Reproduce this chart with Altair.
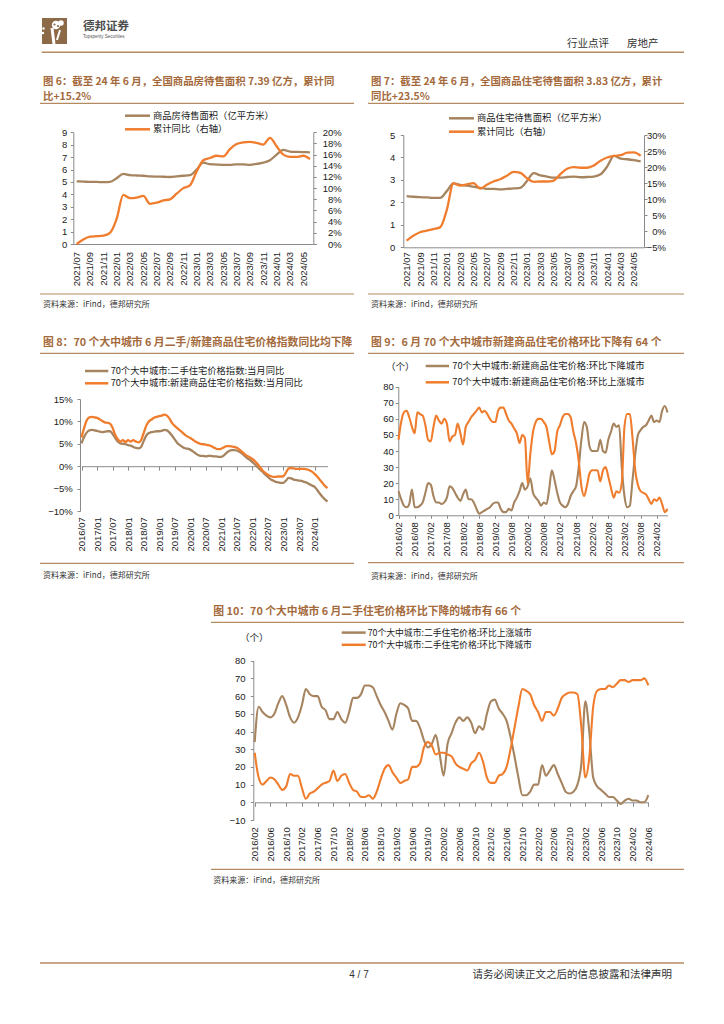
import altair as alt
import pandas as pd

W, H = 708, 1000
OX, OY = 8, 8

BROWN = "#a6845f"
ORANGE = "#f07d2d"
TITLE_C = "#a46a3c"
RULE_C = "#b48a60"
AXIS_C = "#8a8a8a"
TXT_C = "#1a1a1a"
CJK = "Noto Sans CJK SC"
NUM = "Liberation Sans"


def month_range(y0, m0, n):
    out = []
    y, m = y0, m0
    for _ in range(n):
        out.append(f"{y}/{m:02d}")
        m += 1
        if m > 12:
            m = 1
            y += 1
    return out


# ---------------- data ----------------
months6 = month_range(2021, 7, 36)
area6 = [5.05, 5.03, 5.00, 5.00, 4.98, 5.00, 5.30, 5.65, 5.55, 5.52, 5.50, 5.45,
         5.43, 5.42, 5.40, 5.45, 5.50, 5.55, 6.00, 6.55, 6.43, 6.40, 6.37, 6.38,
         6.42, 6.42, 6.38, 6.45, 6.55, 6.75, 7.20, 7.58, 7.45, 7.42, 7.40, 7.39]
yoy6 = [0.000, 0.008, 0.013, 0.014, 0.015, 0.020, 0.045, 0.088, 0.082, 0.083, 0.086, 0.072,
        0.074, 0.078, 0.080, 0.090, 0.100, 0.105, 0.130, 0.150, 0.154, 0.158, 0.157, 0.170,
        0.179, 0.182, 0.183, 0.181, 0.178, 0.190, 0.175, 0.160, 0.156, 0.156, 0.158, 0.152]

months7 = month_range(2021, 7, 36)
area7 = [2.28, 2.25, 2.23, 2.22, 2.20, 2.20, 2.50, 2.85, 2.78, 2.75, 2.70, 2.65,
         2.60, 2.60, 2.58, 2.60, 2.62, 2.65, 2.95, 3.30, 3.20, 3.15, 3.10, 3.10,
         3.13, 3.15, 3.12, 3.13, 3.15, 3.25, 3.60, 4.07, 3.95, 3.92, 3.88, 3.83]
yoy7 = [-0.029, -0.014, -0.003, 0.002, 0.007, 0.012, 0.066, 0.149, 0.142, 0.146, 0.150, 0.133,
        0.145, 0.155, 0.162, 0.173, 0.185, 0.182, 0.165, 0.154, 0.155, 0.155, 0.158, 0.178,
        0.195, 0.200, 0.198, 0.198, 0.205, 0.220, 0.230, 0.235, 0.237, 0.245, 0.246, 0.235]

months8 = month_range(2016, 7, 96)
resale_yoy8 = [5.1, 6.5, 7.5, 8.0, 8.1, 8.0, 7.9, 7.7, 7.6, 7.7, 7.8, 7.8,
               7.2, 6.3, 5.5, 5.1, 5.0, 4.9, 4.7, 4.6, 4.3, 4.1, 4.0, 4.3,
               5.6, 6.8, 7.4, 7.6, 7.7, 7.8, 7.8, 7.9, 8.1, 8.0, 7.5, 6.8,
               6.0, 5.2, 4.7, 4.3, 4.0, 3.9, 3.7, 3.3, 2.9, 2.5, 2.3, 2.3,
               2.2, 2.3, 2.3, 2.2, 2.2, 2.1, 2.1, 2.4, 3.0, 3.4, 3.6, 3.6,
               3.5, 3.2, 2.8, 2.3, 1.8, 1.4, 0.9, 0.4, -0.2, -0.8, -1.3, -1.9,
               -2.4, -2.9, -3.2, -3.5, -3.6, -3.7, -3.7, -3.2, -2.6, -2.7, -3.0, -3.1,
               -3.2, -3.3, -3.5, -3.7, -4.0, -4.3, -4.6, -5.3, -6.1, -6.8, -7.4, -7.9]
new_yoy8 = [6.4, 8.5, 10.2, 10.9, 11.0, 10.9, 10.8, 10.5, 10.1, 9.8, 9.7, 9.5,
            8.6, 7.0, 6.0, 5.5, 5.8, 5.4, 5.8, 5.5, 5.8, 5.5, 5.3, 5.8,
            7.4, 9.0, 10.0, 10.4, 10.8, 11.0, 11.2, 11.3, 11.5, 11.3, 10.6, 9.6,
            9.0, 8.5, 8.0, 7.5, 7.0, 6.6, 6.3, 5.9, 5.5, 5.2, 5.0, 4.9,
            4.8, 4.7, 4.5, 4.2, 3.9, 3.8, 3.9, 4.2, 4.5, 4.5, 4.4, 4.3,
            4.1, 3.7, 3.2, 2.7, 2.3, 2.0, 1.6, 1.1, 0.5, -0.3, -1.0, -1.5,
            -1.9, -2.2, -2.4, -2.4, -2.3, -2.3, -2.2, -1.4, -0.5, -0.4, -0.5, -0.6,
            -0.6, -0.6, -0.6, -0.7, -0.9, -1.2, -1.7, -2.3, -3.0, -3.7, -4.4, -4.9]

months9 = month_range(2016, 2, 101)
fall9 = [15, 10, 6, 5, 7, 16, 5, 5, 6, 8, 14, 20, 19, 12, 8, 8, 7, 8, 11, 18,
         17, 14, 11, 9, 13, 16, 10, 10, 8, 4, 1, 2, 3, 4, 5, 7, 8, 8, 4, 2,
         2, 4, 3, 8, 11, 15, 20, 16, 18, 23, 14, 11, 9, 6, 8, 7, 16, 28, 22, 14,
         8, 6, 5, 7, 12, 15, 18, 30, 47, 58, 55, 43, 40, 40, 40, 47, 40, 39, 47, 52,
         57, 55, 56, 30, 12, 5, 6, 22, 38, 50, 53, 55, 56, 59, 62, 58, 59, 58, 65, 68, 64]
rise9 = [47, 58, 64, 65, 61, 55, 51, 64, 63, 62, 56, 47, 46, 55, 62, 59, 57, 60, 57, 46,
         49, 50, 57, 51, 44, 55, 58, 61, 63, 65, 67, 64, 65, 63, 60, 58, 58, 65, 67, 67,
         63, 59, 57, 54, 51, 45, 50, 48, 20, 38, 52, 58, 60, 60, 58, 55, 46, 38, 40, 52,
         56, 61, 63, 63, 61, 52, 45, 34, 18, 12, 18, 26, 28, 28, 28, 21, 28, 30, 24, 17,
         11, 15, 14, 20, 55, 63, 63, 48, 28, 19, 15, 14, 13, 10, 7, 10, 9, 11, 7, 2, 4]

months10 = month_range(2016, 2, 101)
rise10 = [34, 54, 51, 49, 48, 50, 56, 60, 55, 48, 45, 48, 55, 64, 61, 60, 60, 54, 52, 47,
          47, 51, 47, 45, 51, 59, 59, 61, 66, 66, 65, 60, 55, 51, 46, 41, 50, 56, 55, 53,
          46, 46, 42, 35, 31, 33, 38, 27, 15, 33, 39, 45, 48, 46, 48, 45, 39, 43, 41, 50,
          57, 58, 53, 50, 46, 37, 26, 14, 4, 4, 6, 10, 10, 21, 15, 18, 21, 16, 11, 6,
          5, 6, 10, 22, 57, 40, 14, 9, 7, 5, 3, 3, 1, -1, 1, 2, 1, 1, 0, 0, 4]
fall10 = [28, 14, 10, 12, 14, 13, 10, 7, 9, 16, 15, 15, 8, 2, 5, 6, 8, 10, 11, 12,
          18, 12, 15, 16, 11, 7, 6, 3, 3, 4, 2, 6, 13, 19, 21, 17, 14, 11, 12, 13,
          20, 20, 22, 31, 34, 32, 27, 28, 28, 27, 26, 22, 20, 19, 18, 22, 24, 28, 23, 14,
          11, 11, 15, 16, 20, 30, 42, 54, 64, 63, 61, 55, 51, 46, 51, 51, 49, 53, 59, 61,
          62, 62, 61, 42, 14, 25, 54, 63, 64, 64, 66, 65, 67, 69, 69, 68, 69, 69, 69, 70, 66]

df6 = pd.DataFrame({"month": months6, "area": area6, "yoy": yoy6})
df7 = pd.DataFrame({"month": months7, "area": area7, "yoy": yoy7})
df8 = pd.DataFrame({"month": months8,
                    "resale": [v / 100 for v in resale_yoy8],
                    "new": [v / 100 for v in new_yoy8]})
df9 = pd.DataFrame({"month": months9, "fall": fall9, "rise": rise9})
df10 = pd.DataFrame({"month": months10, "rise": rise10, "fall": fall10})

ONE = pd.DataFrame({"k": [0]})


# ---------------- helpers ----------------
def xs(domain, x0, x1, pad=0.0):
    return alt.Scale(type="point", domain=domain, range=[x0 - OX, x1 - OX], padding=pad)


def ys(d0, d1, ybot, ytop):
    return alt.Scale(domain=[d0, d1], range=[ybot - OY, ytop - OY], nice=False, zero=False)


def x_axis(values, ypos, labels=True, domain=True, ticks=False, pad=4, tick_size=4):
    return alt.Axis(orient="bottom", offset=(ypos - OY) - H, values=values, labels=labels,
                    labelAngle=270, labelFont=NUM, labelFontSize=9.5, labelColor=TXT_C,
                    labelPadding=pad, labelOverlap=False, domain=domain, domainColor=AXIS_C,
                    ticks=ticks, tickColor=AXIS_C, tickSize=tick_size, grid=False, title=None)


def y_axis(orient, xpos, values, fmt=None, pad=3, align=None):
    off = -(xpos - OX) if orient == "left" else (xpos - OX) - W
    kw = dict(orient=orient, offset=off, values=values, labelFont=NUM, labelFontSize=9.5,
              labelColor=TXT_C, labelPadding=pad, domainColor=AXIS_C, tickColor=AXIS_C,
              tickSize=3, grid=False, title=None, labelOverlap=False)
    if fmt:
        kw["format"] = fmt
    if align:
        kw["labelAlign"] = align
    return alt.Axis(**kw)


def line(df, field, color, xscale, yscale, xaxis, yaxis, width=2.3):
    return alt.Chart(df).mark_line(color=color, strokeWidth=width, interpolate="monotone").encode(
        x=alt.X("month:O", sort=None, scale=xscale, axis=xaxis),
        y=alt.Y(f"{field}:Q", scale=yscale, axis=yaxis))


def label(s, x, y, size=9.3, color=TXT_C, weight="normal", align="left", font=CJK):
    return alt.Chart(ONE).mark_text(text=s, font=font, fontSize=size, fontWeight=weight,
                                    color=color, align=align, baseline="middle").encode(
        x=alt.value(x - OX), y=alt.value(y - OY))


def hrule(x1, x2, y, color=RULE_C, width=1.2):
    return alt.Chart(ONE).mark_rule(color=color, strokeWidth=width).encode(
        x=alt.value(x1 - OX), x2=alt.value(x2 - OX), y=alt.value(y - OY))


def seg(x1, y1, x2, y2, color, width):
    return alt.Chart(ONE).mark_rule(color=color, strokeWidth=width).encode(
        x=alt.value(x1 - OX), x2=alt.value(x2 - OX), y=alt.value(y1 - OY), y2=alt.value(y2 - OY))


def dot(x, y, size, color):
    return alt.Chart(ONE).mark_circle(color=color, size=size, opacity=1).encode(
        x=alt.value(x - OX), y=alt.value(y - OY))


def title(s, x, y, size=10.8):
    return label(s, x, y, size=size, color=TITLE_C, weight="bold")


SRC = "资料来源：iFind，德邦研究所"
layers = []

# ---------------- header / footer ----------------
layers += [
    alt.Chart(ONE).mark_rect(color="#8c6a47").encode(
        x=alt.value(42 - OX), x2=alt.value(67 - OX), y=alt.value(18 - OY), y2=alt.value(44 - OY)),
    dot(56, 25, 70, "white"), dot(61, 23, 30, "white"),
    dot(54.5, 24.5, 5, "#8c6a47"), dot(58, 26, 5, "#8c6a47"),
    seg(52, 28, 54, 44, "white", 3), seg(60, 30, 57, 40, "white", 2),
    dot(43.5, 28.5, 6, "white"), dot(43, 33, 6, "white"),
    label("德邦证券", 83, 26.5, size=11.5, color="#4d4d4d", weight="bold"),
    label("Topsperity Securities", 83, 36.5, size=4.5, color="#555555", font=NUM),
    label("行业点评", 567, 44, size=10.5, color="#333333"),
    label("房地产", 627, 44, size=10.5, color="#333333"),
    hrule(41.7, 684, 52.3, width=1.6),
    hrule(40, 684, 963, width=1.6),
    label("4 / 7", 359, 975, size=10, color="#333333", align="center", font=NUM),
    label("请务必阅读正文之后的信息披露和法律声明", 672, 975, size=10.5, color="#333333", align="right"),
]

# ---------------- chart 6 ----------------
x6 = xs(months6, 73.3, 313.3, 0.5)
y6a = ys(0, 9, 244, 132.3)
y6b = ys(0, 0.20, 244, 132.3)
layers += [
    title("图 6：截至 24 年 6 月，全国商品房待售面积 7.39 亿方，累计同", 43, 82, 10.4),
    title("比+15.2%", 43, 96.5, 10.4),
    hrule(40, 354, 103.3),
    hrule(125, 150, 115.7, BROWN, 2.5), label("商品房待售面积（亿平方米）", 153, 115.7),
    hrule(125, 150, 129.3, ORANGE, 2.5), label("累计同比（右轴）", 153, 129.3),
    hrule(40, 354, 294),
    label(SRC, 43, 305, size=8, color="#333333"),
    line(df6, "area", BROWN, x6, y6a, x_axis(months6[::2], 244, pad=7.5),
         y_axis("left", 73.3, list(range(10)), pad=3.5)),
    line(df6, "yoy", ORANGE, x6, y6b, None,
         y_axis("right", 313.3, [i / 100 for i in range(0, 21, 2)], fmt=".0%", pad=25, align="right")),
]

# ---------------- chart 7 ----------------
x7 = xs(months7, 403.3, 644, 0.5)
y7a = ys(0, 5, 247.3, 135)
y7b = ys(-0.05, 0.30, 247.3, 135)
layers += [
    title("图 7：截至 24 年 6 月，全国商品住宅待售面积 3.83 亿方，累计", 371, 82, 10.4),
    title("同比+23.5%", 371, 96.5, 10.4),
    hrule(368, 684, 103.3),
    hrule(449, 474, 118.3, BROWN, 2.5), label("商品住宅待售面积（亿平方米）", 477, 118.3),
    hrule(449, 474, 131.7, ORANGE, 2.5), label("累计同比（右轴）", 477, 131.7),
    hrule(368, 684, 294),
    label(SRC, 371, 305, size=8, color="#333333"),
    line(df7, "area", BROWN, x7, y7a, x_axis(months7[::2], 247.3, pad=4.5),
         y_axis("left", 403.3, list(range(6)), pad=5.5)),
    line(df7, "yoy", ORANGE, x7, y7b, None,
         y_axis("right", 644, [i / 100 for i in range(-5, 31, 5)], fmt=".0%", pad=18.5, align="right")),
]

# ---------------- chart 8 ----------------
x8 = xs(months8, 81.5, 327.5, 0)
y8 = ys(-0.10, 0.15, 511, 399)
layers += [
    title("图 8：70 个大中城市 6 月二手/新建商品住宅价格指数同比均下降", 43, 343.3),
    hrule(40, 354, 353.3),
    hrule(85, 108.3, 371, BROWN, 2.5), label("70个大中城市:二手住宅价格指数:当月同比", 110.7, 371),
    hrule(85, 108.3, 383.3, ORANGE, 2.5), label("70个大中城市:新建商品住宅价格指数:当月同比", 110.7, 383.3),
    hrule(40, 354, 563.3),
    label(SRC, 43, 576, size=8, color="#333333"),
    line(df8, "resale", BROWN, x8, y8,
         x_axis(months8[::6], 511, domain=False, ticks=False, pad=5.7),
         y_axis("left", 80, [-0.10, -0.05, 0, 0.05, 0.10, 0.15], fmt=".0%", pad=4.7)),
    line(df8, "new", ORANGE, x8, y8,
         x_axis(months8[::6], 466.2, labels=False, domain=True, ticks=True, tick_size=4), None),
]

# ---------------- chart 9 ----------------
x9 = xs(months9, 398.5, 667.5, 0)
y9 = ys(0, 80, 515.3, 386.7)
layers += [
    title("图 9：6 月 70 个大中城市新建商品住宅价格环比下降有 64 个", 371, 343.3),
    hrule(368, 684, 353.3),
    label("（个）", 386, 366.7, size=9.5),
    hrule(425.7, 449, 366, BROWN, 2.5), label("70个大中城市:新建商品住宅价格:环比下降城市", 452.3, 366),
    hrule(425.7, 449, 382.3, ORANGE, 2.5), label("70个大中城市:新建商品住宅价格:环比上涨城市", 452.3, 382.3),
    hrule(368, 684, 562.7),
    label(SRC, 371, 576.7, size=8, color="#333333"),
    line(df9, "fall", BROWN, x9, y9,
         x_axis(months9[::6], 515.3, domain=True, ticks=True, pad=3.4, tick_size=3),
         y_axis("left", 398.3, list(range(0, 81, 10)), pad=2), width=2.1),
    line(df9, "rise", ORANGE, x9, y9, None, None, width=2.1),
]

# ---------------- chart 10 ----------------
x10 = xs(months10, 254.7, 648.3, 0)
y10 = ys(-10, 80, 820, 660.7)
layers += [
    title("图 10：70 个大中城市 6 月二手住宅价格环比下降的城市有 66 个", 213.3, 611.7),
    hrule(211, 684, 622.3),
    label("（个）", 240, 638.3, size=9.5),
    hrule(341.7, 365.7, 632.6, BROWN, 2.5),
    label("70个大中城市:二手住宅价格:环比上涨城市", 367.7, 632.6, size=8.8),
    hrule(341.7, 365.7, 644.8, ORANGE, 2.5),
    label("70个大中城市:二手住宅价格:环比下降城市", 367.7, 644.8, size=8.8),
    hrule(211, 684, 869.3),
    label(SRC, 213.3, 881, size=8, color="#333333"),
    line(df10, "rise", BROWN, x10, y10,
         x_axis(months10[::4], 820, domain=False, ticks=False, pad=6.7),
         y_axis("left", 253.3, list(range(-10, 81, 10)), pad=5.3), width=2.1),
    line(df10, "fall", ORANGE, x10, y10,
         x_axis(months10[::4], 802.3, labels=False, domain=True, ticks=True, tick_size=4), None, width=2.1),
]

chart = alt.layer(*layers).resolve_scale(x="independent", y="independent").properties(
    width=W, height=H, autosize=alt.AutoSizeParams(type="none"), padding=0, background="white"
).configure_view(stroke=None)

chart.save("out.html", embed_options={"renderer": "svg", "actions": False})
